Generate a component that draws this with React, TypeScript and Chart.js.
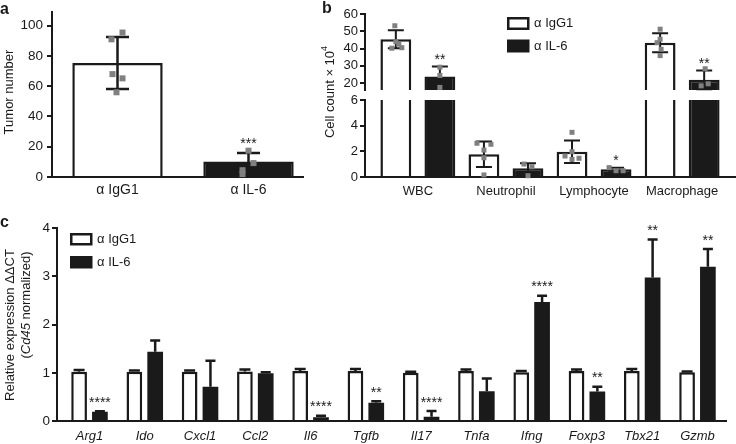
import React, { useEffect, useRef } from 'react';
import { Chart, registerables } from 'chart.js';

Chart.register(...registerables);

const FONT_FAMILY = '"Liberation Sans", Arial, Helvetica, sans-serif';
const INK = '#1a1a1a';
const DOT = '#808080';
const WHITE = '#ffffff';

Chart.defaults.font.family = FONT_FAMILY;
Chart.defaults.color = INK;

// ---------- shared
const LEGEND_LABELS = ['α IgG1', 'α IL-6'];

// ---------- panel a : tumour number
const A_GROUPS = ['α IgG1', 'α IL-6'];
const A_MEAN = [75.4, 10.3];
const A_SD = [17.2, 5.6];
const A_POINTS = [
  [95.5, 91, 68, 65.2, 56],
  [17.4, 9.2, 4.5, 1.9],
];
const A_JITTER = [
  [5, -6, -5, 5, -1],
  [0, 5, -6, -6],
];
const A_SIG = ['', '***'];
const A_YTICKS = [0, 20, 40, 60, 80, 100];

// ---------- panel b : cell counts (broken axis)
const B_CELLS = ['WBC', 'Neutrophil', 'Lymphocyte', 'Macrophage'];
const B_IGG1_MEAN = [45.4, 1.77, 1.97, 43.4];
const B_IGG1_SD = [5.2, 1.0, 0.88, 5.5];
const B_IL6_MEAN = [23.8, 0.68, 0.6, 21.9];
const B_IL6_SD = [5.8, 0.39, 0.12, 5.4];
const B_IGG1_POINTS = [
  [53.2, 44, 42.5, 40.2, 40.5],
  [2.63, 2.55, 2.1, 1.5, 0.16],
  [3.48, 1.97, 1.64, 1.46, 1.38],
  [51.2, 45.4, 43.4, 39.6, 35.9],
];
const B_IL6_POINTS = [
  [29.2, 24.4, 17.5],
  [1.01, 0.8, 0.1],
  [0.73, 0.49, 0.49],
  [28.3, 18.4, 19.6],
];
const B_IGG1_JITTER = [
  [-1, 0, 3, -4, 6],
  [-7, 7, 0, 0, 0],
  [0, 0, -7, 7, 0],
  [0, 0, -3, 1, 0],
];
const B_IL6_JITTER = [
  [0, 0, 0],
  [-4, 4, 0],
  [-7, 0, 7],
  [1, -3, 4],
];
const B_SIG = ['**', '', '*', '**'];
const B_LOW_TICKS = [0, 2, 4, 6];
const B_HIGH_TICKS = [20, 30, 40, 50, 60];
const B_LOW_MAX = 6;
const B_HIGH_MIN = 16;
const B_HIGH_MAX = 60;

// ---------- panel c : relative expression
const GENES = ['Arg1', 'Ido', 'Cxcl1', 'Ccl2', 'Il6', 'Tgfb', 'Il17', 'Tnfa', 'Ifng', 'Foxp3', 'Tbx21', 'Gzmb'];
const C_IGG1_MEAN = [1.02, 1.02, 1.02, 1.03, 1.04, 1.04, 1.0, 1.04, 1.01, 1.04, 1.04, 1.01];
const C_IGG1_SD = [0.04, 0.03, 0.03, 0.04, 0.04, 0.04, 0.02, 0.03, 0.03, 0.03, 0.04, 0.02];
const C_IL6_MEAN = [0.19, 1.44, 0.71, 0.99, 0.08, 0.38, 0.09, 0.62, 2.47, 0.61, 2.98, 3.2];
const C_IL6_SD = [0.01, 0.23, 0.54, 0.02, 0.03, 0.03, 0.12, 0.26, 0.13, 0.1, 0.79, 0.37];
const C_SIG = ['****', '', '', '', '****', '**', '****', '', '****', '**', '**', '**'];
const C_YTICKS = [0, 1, 2, 3, 4];

// ---------- helpers
const font = (size: number, style = 'normal', weight = 'normal') => ({ family: FONT_FAMILY, size, style, weight });
const css = (size: number, style = '', weight = '') => `${style} ${weight} ${size}px ${FONT_FAMILY}`.trim();

const fixedTicks = (values: number[]) => (scale: any) => {
  scale.ticks = values.map((v) => ({ value: v }));
};
const fixedWidth = (w: number) => (scale: any) => {
  scale.width = w;
};
const fixedHeight = (h: number) => (scale: any) => {
  scale.height = h;
};

function yAxis(min: number, max: number, ticks: number[], width: number, size: number, tl: number, pad: number): any {
  return {
    type: 'linear',
    position: 'left',
    min,
    max,
    offset: false,
    stacked: false,
    afterBuildTicks: fixedTicks(ticks),
    afterFit: fixedWidth(width),
    ticks: { font: font(size), color: INK, padding: pad, autoSkip: false },
    grid: { display: true, drawOnChartArea: false, drawTicks: true, tickLength: tl, color: INK, lineWidth: 2 },
    border: { display: true, color: INK, width: 2 },
  };
}

function xAxis(min: number, max: number, labels: string[], height: number, size: number, pad: number, italic = false): any {
  return {
    type: 'linear',
    position: 'bottom',
    min,
    max,
    offset: false,
    afterBuildTicks: fixedTicks(labels.map((_, i) => i)),
    afterFit: fixedHeight(height),
    ticks: {
      font: font(size, italic ? 'italic' : 'normal'),
      color: INK,
      padding: pad,
      maxRotation: 0,
      autoSkip: false,
      callback: (v: number) => labels[v] ?? '',
    },
    grid: { display: false, drawTicks: false, offset: false },
    border: { display: true, color: INK, width: 2 },
  };
}

function errorBar(ctx: CanvasRenderingContext2D, x: number, yMean: number, yHi: number, yLo: number | null, cap: number, lw: number) {
  ctx.save();
  ctx.strokeStyle = INK;
  ctx.lineWidth = lw;
  ctx.lineCap = 'butt';
  ctx.beginPath();
  ctx.moveTo(x, yLo ?? yMean);
  ctx.lineTo(x, yHi);
  ctx.moveTo(x - cap / 2, yHi);
  ctx.lineTo(x + cap / 2, yHi);
  if (yLo !== null) {
    ctx.moveTo(x - cap / 2, yLo);
    ctx.lineTo(x + cap / 2, yLo);
  }
  ctx.stroke();
  ctx.restore();
}

function square(ctx: CanvasRenderingContext2D, x: number, y: number, s: number) {
  ctx.fillStyle = DOT;
  ctx.fillRect(x - s / 2, y - s / 2, s, s);
}

function stars(ctx: CanvasRenderingContext2D, s: string, x: number, centerY: number, size = 14) {
  if (!s) return;
  ctx.save();
  ctx.font = css(size);
  ctx.fillStyle = INK;
  ctx.textAlign = 'center';
  ctx.textBaseline = 'alphabetic';
  ctx.fillText(s, x, centerY + 0.58 * size);
  ctx.restore();
}

function label(ctx: CanvasRenderingContext2D, s: string, x: number, y: number, f: string, align: CanvasTextAlign = 'left', baseline: CanvasTextBaseline = 'middle') {
  ctx.save();
  ctx.font = f;
  ctx.fillStyle = INK;
  ctx.textAlign = align;
  ctx.textBaseline = baseline;
  ctx.fillText(s, x, y);
  ctx.restore();
}

type Part = { text: string; font: string; dy?: number };
function vText(ctx: CanvasRenderingContext2D, parts: Part[], cx: number, cy: number) {
  ctx.save();
  ctx.translate(cx, cy);
  ctx.rotate(-Math.PI / 2);
  ctx.fillStyle = INK;
  ctx.textAlign = 'left';
  ctx.textBaseline = 'middle';
  const widths = parts.map((p) => {
    ctx.font = p.font;
    return ctx.measureText(p.text).width;
  });
  const total = widths.reduce((a, b) => a + b, 0);
  let x = -total / 2;
  parts.forEach((p, i) => {
    ctx.font = p.font;
    ctx.fillText(p.text, x, p.dy ?? 0);
    x += widths[i];
  });
  ctx.restore();
}

function legend(ctx: CanvasRenderingContext2D, x: number, y1: number, y2: number, w: number, h: number, textX: number, size: number) {
  ctx.save();
  ctx.fillStyle = WHITE;
  ctx.fillRect(x, y1, w, h);
  ctx.strokeStyle = INK;
  ctx.lineWidth = 2.5;
  ctx.strokeRect(x + 1.25, y1 + 1.25, w - 2.5, h - 2.5);
  ctx.fillStyle = INK;
  ctx.fillRect(x, y2, w, h);
  ctx.restore();
  label(ctx, LEGEND_LABELS[0], textX, y1 + h / 2, css(size));
  label(ctx, LEGEND_LABELS[1], textX, y2 + h / 2, css(size));
}

const baseOptions = (padding: any) => ({
  animation: false,
  responsive: false,
  maintainAspectRatio: false,
  events: [],
  layout: { padding, autoPadding: false },
  plugins: { legend: { display: false }, tooltip: { enabled: false } },
});

// ---------- panel a
function makeA(): any {
  const overlay = {
    id: 'overlayA',
    afterDatasetsDraw(chart: any) {
      const ctx: CanvasRenderingContext2D = chart.ctx;
      const y = chart.scales.y;
      const meta = chart.getDatasetMeta(0);
      A_MEAN.forEach((m, i) => {
        const x = meta.data[i].x;
        const hi = y.getPixelForValue(m + A_SD[i]);
        errorBar(ctx, x, y.getPixelForValue(m), hi, y.getPixelForValue(m - A_SD[i]), 23, 2.5);
        A_POINTS[i].forEach((v, k) => square(ctx, x + A_JITTER[i][k], y.getPixelForValue(v), 6));
        stars(ctx, A_SIG[i], x, hi - 13);
      });
      vText(ctx, [{ text: 'Tumor number', font: css(13) }], 9, 92);
      label(ctx, 'a', 0, 14, css(16, '', 'bold'), 'left', 'alphabetic');
    },
  };
  return {
    type: 'bar',
    data: {
      datasets: [
        {
          data: A_MEAN.map((v, i) => ({ x: i, y: v })),
          backgroundColor: [WHITE, INK],
          borderColor: INK,
          borderWidth: 2.5,
          borderSkipped: 'start',
          barPercentage: 0.69,
          categoryPercentage: 1,
        },
      ],
    },
    options: {
      ...baseOptions({ top: 8, right: 7, left: 0, bottom: 0 }),
      scales: {
        x: xAxis(-0.5, 1.416, A_GROUPS, 23, 14, 5),
        y: yAxis(0, 109, A_YTICKS, 52, 13.5, 5, 4),
      },
    },
    plugins: [overlay],
  };
}

// ---------- panel b
function makeB(): any {
  const pix = (chart: any, v: number) =>
    v >= B_HIGH_MIN
      ? chart.scales.yHigh.getPixelForValue(v)
      : chart.scales.yLow.getPixelForValue(Math.min(v, B_LOW_MAX));
  const overlay = {
    id: 'overlayB',
    afterDatasetsDraw(chart: any) {
      const ctx: CanvasRenderingContext2D = chart.ctx;
      const m0 = chart.getDatasetMeta(0);
      const m1 = chart.getDatasetMeta(1);
      B_CELLS.forEach((_, i) => {
        const groups = [
          { x: m0.data[i].x, mean: B_IGG1_MEAN[i], sd: B_IGG1_SD[i], pts: B_IGG1_POINTS[i], jit: B_IGG1_JITTER[i], sig: '' },
          { x: m1.data[i].x, mean: B_IL6_MEAN[i], sd: B_IL6_SD[i], pts: B_IL6_POINTS[i], jit: B_IL6_JITTER[i], sig: B_SIG[i] },
        ];
        groups.forEach((g) => {
          const hi = pix(chart, g.mean + g.sd);
          errorBar(ctx, g.x, pix(chart, g.mean), hi, pix(chart, Math.max(0, g.mean - g.sd)), 16, 2);
          g.pts.forEach((v, k) => square(ctx, g.x + g.jit[k], pix(chart, v), 5));
          stars(ctx, g.sig, g.x, hi - 11);
        });
      });
      vText(
        ctx,
        [
          { text: 'Cell count × 10', font: css(13) },
          { text: '4', font: css(9), dy: -5 },
        ],
        20,
        92,
      );
      legend(ctx, 197, 17, 39.5, 22.5, 13, 224, 13);
      label(ctx, 'b', 12, 12.5, css(16, '', 'bold'), 'left', 'alphabetic');
    },
  };
  const white = { backgroundColor: WHITE, borderColor: INK, barPercentage: 0.7, categoryPercentage: 1 };
  const black = { backgroundColor: INK, borderColor: INK, barPercentage: 0.7, categoryPercentage: 1 };
  // lower segment: a bar that continues above the break has only side borders
  const lowBorder = (means: number[]) => (c: any) =>
    means[c.dataIndex] > B_LOW_MAX ? { left: 2.5, right: 2.5, top: 0, bottom: 0 } : 2.5;
  const upper = (means: number[]) =>
    means.map((v, i) => ({ x: i, y: v > B_HIGH_MIN ? [B_HIGH_MIN, v] : null })).filter((d) => d.y !== null);
  return {
    type: 'bar',
    data: {
      datasets: [
        { ...white, stack: 'igg1', yAxisID: 'yLow', borderSkipped: 'start', borderWidth: lowBorder(B_IGG1_MEAN), data: B_IGG1_MEAN.map((v, i) => ({ x: i, y: [0, Math.min(v, B_LOW_MAX)] })) },
        { ...black, stack: 'il6', yAxisID: 'yLow', borderSkipped: 'start', borderWidth: lowBorder(B_IL6_MEAN), data: B_IL6_MEAN.map((v, i) => ({ x: i, y: [0, Math.min(v, B_LOW_MAX)] })) },
        { ...white, stack: 'igg1', yAxisID: 'yHigh', borderSkipped: 'start', borderWidth: 2.5, data: upper(B_IGG1_MEAN) },
        { ...black, stack: 'il6', yAxisID: 'yHigh', borderSkipped: 'start', borderWidth: 2.5, data: upper(B_IL6_MEAN) },
      ],
    },
    options: {
      ...baseOptions({ top: 14, right: 1, left: 0, bottom: 0 }),
      scales: {
        x: xAxis(-0.6, 3.6, B_CELLS, 23, 13, 7),
        yLow: { ...yAxis(0, B_LOW_MAX, B_LOW_TICKS, 55, 13, 5, 2), stack: 'cells', stackWeight: 77, weight: 1 },
        yGap: {
          type: 'linear',
          position: 'left',
          min: 0,
          max: 1,
          stack: 'cells',
          stackWeight: 10,
          weight: 2,
          afterFit: fixedWidth(55),
          ticks: { display: false },
          grid: { display: false },
          border: { display: false },
        },
        yHigh: { ...yAxis(B_HIGH_MIN, B_HIGH_MAX, B_HIGH_TICKS, 55, 13, 5, 2), stack: 'cells', stackWeight: 76, weight: 3 },
      },
    },
    plugins: [overlay],
  };
}

// ---------- panel c
function makeC(): any {
  const overlay = {
    id: 'overlayC',
    afterDatasetsDraw(chart: any) {
      const ctx: CanvasRenderingContext2D = chart.ctx;
      const y = chart.scales.y;
      const m0 = chart.getDatasetMeta(0);
      const m1 = chart.getDatasetMeta(1);
      GENES.forEach((_, i) => {
        const x0 = m0.data[i].x;
        errorBar(ctx, x0, y.getPixelForValue(C_IGG1_MEAN[i]), y.getPixelForValue(C_IGG1_MEAN[i] + C_IGG1_SD[i]), null, 11, 2.5);
        const x1 = m1.data[i].x;
        const hi = y.getPixelForValue(C_IL6_MEAN[i] + C_IL6_SD[i]);
        errorBar(ctx, x1, y.getPixelForValue(C_IL6_MEAN[i]), hi, null, 10, 2.5);
        stars(ctx, C_SIG[i], x1, hi - 12.5);
      });
      vText(ctx, [{ text: 'Relative expression ΔΔCT', font: css(13) }], 10, 130);
      vText(
        ctx,
        [
          { text: '(', font: css(13) },
          { text: 'Cd45', font: css(13, 'italic') },
          { text: ' normalized)', font: css(13) },
        ],
        26,
        110,
      );
      legend(ctx, 70, 38, 61, 22.5, 12.5, 97, 13);
      label(ctx, 'c', 0, 31.5, css(16, '', 'bold'), 'left', 'alphabetic');
    },
  };
  return {
    type: 'bar',
    data: {
      datasets: [
        {
          label: LEGEND_LABELS[0],
          data: C_IGG1_MEAN.map((v, i) => ({ x: i, y: v })),
          backgroundColor: WHITE,
          borderColor: INK,
          borderWidth: 2.5,
          borderSkipped: 'start',
          barPercentage: 0.755,
          categoryPercentage: 0.753,
        },
        {
          label: LEGEND_LABELS[1],
          data: C_IL6_MEAN.map((v, i) => ({ x: i, y: v })),
          backgroundColor: INK,
          borderColor: INK,
          borderWidth: 0,
          barPercentage: 0.755,
          categoryPercentage: 0.753,
        },
      ],
    },
    options: {
      ...baseOptions({ top: 33.3, right: 10, left: 0, bottom: 0 }),
      scales: {
        x: xAxis(-0.588, 11.516, GENES, 23, 13, 8, true),
        y: yAxis(0, 4, C_YTICKS, 57, 13.5, 5, 2),
      },
    },
    plugins: [overlay],
  };
}

function ChartCanvas({ make, left, top, width, height }: { make: () => any; left: number; top: number; width: number; height: number }) {
  const ref = useRef<HTMLCanvasElement>(null);
  useEffect(() => {
    const chart = new Chart(ref.current as HTMLCanvasElement, make());
    return () => chart.destroy();
  }, [make]);
  return (
    <canvas
      ref={ref}
      width={width}
      height={height}
      style={{ position: 'absolute', left, top, width, height, display: 'block' }}
    />
  );
}

export default function App() {
  return (
    <div
      style={{
        position: 'absolute',
        left: 0,
        top: 0,
        width: 736,
        height: 444,
        background: '#ffffff',
        overflow: 'hidden',
      }}
    >
      <ChartCanvas make={makeA} left={0} top={0} width={310} height={200} />
      <ChartCanvas make={makeB} left={310} top={0} width={426} height={200} />
      <ChartCanvas make={makeC} left={0} top={195} width={736} height={249} />
    </div>
  );
}
